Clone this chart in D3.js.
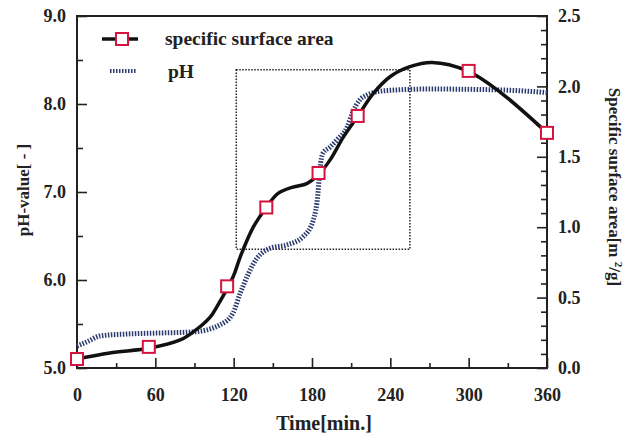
<!DOCTYPE html>
<html lang="en">
<head>
  <meta charset="UTF-8">
  <title>pH and specific surface area</title>
  <script src="https://d3js.org/d3.v7.min.js"></script>
  <style>
    body { margin: 0; background: #fff; }
    text { font-family: "Liberation Serif", "Times New Roman", serif; font-weight: bold; fill: #222; }
  </style>
</head>
<body>
  <div id="chart"></div>
  <script>
    // measured squares (specific surface area, m2/g)
    const ssaTime = [0, 55, 115, 145, 185, 215, 300, 360];
    const ssaValue = [0.064, 0.15, 0.58, 1.14, 1.385, 1.79, 2.11, 1.67];

    // smooth fitted curve through the squares
    const fitTime = [0, 25, 56, 79, 89, 102, 107, 119.5, 125, 135, 145, 154, 165.5, 176, 184.6, 194, 204, 214.5, 227, 240, 255, 272, 299, 324, 360];
    const fitValue = [0.064, 0.107, 0.142, 0.199, 0.256, 0.362, 0.433, 0.646, 0.788, 1.0, 1.14, 1.24, 1.285, 1.31, 1.37, 1.48, 1.64, 1.78, 1.95, 2.07, 2.14, 2.17, 2.11, 1.96, 1.67];

    // pH record
    const phTime = [0, 8, 17.6, 38, 63.6, 88.9, 109.5, 119.5, 125, 138, 148, 161, 173, 181, 184.6, 186, 188.4, 193.8, 199, 207, 211, 216.8, 222, 230, 245, 270, 324, 360];
    const phValue = [5.25, 5.3, 5.364, 5.386, 5.398, 5.41, 5.49, 5.625, 5.85, 6.25, 6.36, 6.40, 6.49, 6.68, 6.99, 7.25, 7.44, 7.51, 7.59, 7.74, 7.90, 8.05, 8.10, 8.14, 8.16, 8.17, 8.16, 8.13];

    // dotted box (time and pH limits)
    const boxTime = [122, 255];
    const boxPh = [6.35, 8.39];

    const xTicks = [0, 60, 120, 180, 240, 300, 360];
    const phTicks = [5.0, 6.0, 7.0, 8.0, 9.0];
    const ssaTicks = [0.0, 0.5, 1.0, 1.5, 2.0, 2.5];

    const width = 626, height = 436;
    const margin = { left: 77, right: 79, top: 16, bottom: 68 };

    const svg = d3.select("#chart").append("svg")
      .attr("width", width)
      .attr("height", height);

    const x = d3.scaleLinear().domain([0, 360]).range([margin.left, width - margin.right]);
    const yPh = d3.scaleLinear().domain([5, 9]).range([height - margin.bottom, margin.top]);
    const ySsa = d3.scaleLinear().domain([0, 2.5]).range([height - margin.bottom, margin.top]);

    // frame
    svg.append("rect")
      .attr("x", x(0)).attr("y", yPh(9))
      .attr("width", x(360) - x(0)).attr("height", yPh(5) - yPh(9))
      .attr("fill", "none").attr("stroke", "#222").attr("stroke-width", 2);

    // axes, ticks pointing inward
    const xAxis = svg.append("g").attr("transform", `translate(0,${yPh(5)})`)
      .call(d3.axisTop(x).tickValues(d3.range(0, 361, 30)).tickSize(5).tickFormat(""));
    xAxis.selectAll(".tick line").filter(d => d % 60 === 0).attr("y2", -10);
    svg.append("g").attr("transform", `translate(0,${yPh(5)})`)
      .call(d3.axisBottom(x).tickValues(xTicks).tickSize(0).tickPadding(20).tickFormat(d3.format("d")));

    const yAxisL = svg.append("g").attr("transform", `translate(${x(0)},0)`)
      .call(d3.axisRight(yPh).tickValues(d3.range(5, 9.01, 0.5)).tickSize(6).tickFormat(""));
    yAxisL.selectAll(".tick line").filter(d => Math.abs(d % 1) < 1e-6).attr("x2", 10);
    svg.append("g").attr("transform", `translate(${x(0)},0)`)
      .call(d3.axisLeft(yPh).tickValues(phTicks).tickSize(0).tickPadding(11).tickFormat(d3.format(".1f")));

    const yAxisR = svg.append("g").attr("transform", `translate(${x(360)},0)`)
      .call(d3.axisLeft(ySsa).tickValues(d3.range(0, 2.501, 0.1)).tickSize(6).tickFormat(""));
    yAxisR.selectAll(".tick line").filter(d => Math.abs(Math.round(d * 2) - d * 2) < 1e-6).attr("x2", -10);
    svg.append("g").attr("transform", `translate(${x(360)},0)`)
      .call(d3.axisRight(ySsa).tickValues(ssaTicks).tickSize(0).tickPadding(11).tickFormat(d3.format(".1f")));

    svg.selectAll(".domain").remove();
    svg.selectAll(".tick line").attr("stroke", "#222").attr("stroke-width", 1.6);
    svg.selectAll(".tick text").style("font-size", "18px").style("font-family", "Liberation Serif").style("font-weight", "bold").attr("fill", "#222");

    // dotted box
    svg.append("rect")
      .attr("x", x(boxTime[0])).attr("y", yPh(boxPh[1]))
      .attr("width", x(boxTime[1]) - x(boxTime[0]))
      .attr("height", yPh(boxPh[0]) - yPh(boxPh[1]))
      .attr("fill", "none").attr("stroke", "#222").attr("stroke-width", 1.5)
      .attr("stroke-dasharray", "1.5 1.5");

    // pH curve
    const phLine = d3.line().x(d => x(d[0])).y(d => yPh(d[1])).curve(d3.curveMonotoneX);
    svg.append("path")
      .datum(phTime.map((t, i) => [t, phValue[i]]))
      .attr("d", phLine)
      .attr("fill", "none").attr("stroke", "#2b3a6e").attr("stroke-width", 5)
      .attr("stroke-dasharray", "1.5 1.5");

    // specific surface area curve
    const ssaLine = d3.line().x(d => x(d[0])).y(d => ySsa(d[1])).curve(d3.curveCatmullRom);
    svg.append("path")
      .datum(fitTime.map((t, i) => [t, fitValue[i]]))
      .attr("d", ssaLine)
      .attr("fill", "none").attr("stroke", "#111").attr("stroke-width", 3.5);

    const sq = 12;
    svg.append("g").selectAll("rect")
      .data(ssaTime.map((t, i) => [t, ssaValue[i]]))
      .enter().append("rect")
      .attr("x", d => x(d[0]) - sq / 2).attr("y", d => ySsa(d[1]) - sq / 2)
      .attr("width", sq).attr("height", sq)
      .attr("fill", "#fff").attr("stroke", "#d4143f").attr("stroke-width", 2);

    // legend
    const lg = svg.append("g");
    lg.append("line").attr("x1", 102).attr("x2", 138).attr("y1", 39).attr("y2", 39)
      .attr("stroke", "#111").attr("stroke-width", 3.5);
    lg.append("rect").attr("x", 122 - sq / 2).attr("y", 39 - sq / 2).attr("width", sq).attr("height", sq)
      .attr("fill", "#fff").attr("stroke", "#d4143f").attr("stroke-width", 2);
    lg.append("text").attr("x", 165).attr("y", 45).style("font-size", "19.5px").text("specific surface area");
    lg.append("line").attr("x1", 110).attr("x2", 136).attr("y1", 71).attr("y2", 71)
      .attr("stroke", "#2b3a6e").attr("stroke-width", 4).attr("stroke-dasharray", "1.5 1.5");
    lg.append("text").attr("x", 168).attr("y", 78).style("font-size", "19.5px").text("pH");

    // axis titles
    svg.append("text").attr("x", 324).attr("y", 430).attr("text-anchor", "middle")
      .style("font-size", "20px").text("Time[min.]");
    svg.append("text").attr("transform", "translate(29,190) rotate(-90)").attr("text-anchor", "middle")
      .style("font-size", "17px").text("pH-value[ - ]");
    const rt = svg.append("text").attr("transform", "translate(609,187) rotate(90)").attr("text-anchor", "middle")
      .style("font-size", "17px");
    rt.append("tspan").text("Specific surface area[m ");
    rt.append("tspan").attr("dy", -6).style("font-size", "11px").text("2");
    rt.append("tspan").attr("dy", 6).text("/g]");
  </script>
</body>
</html>
